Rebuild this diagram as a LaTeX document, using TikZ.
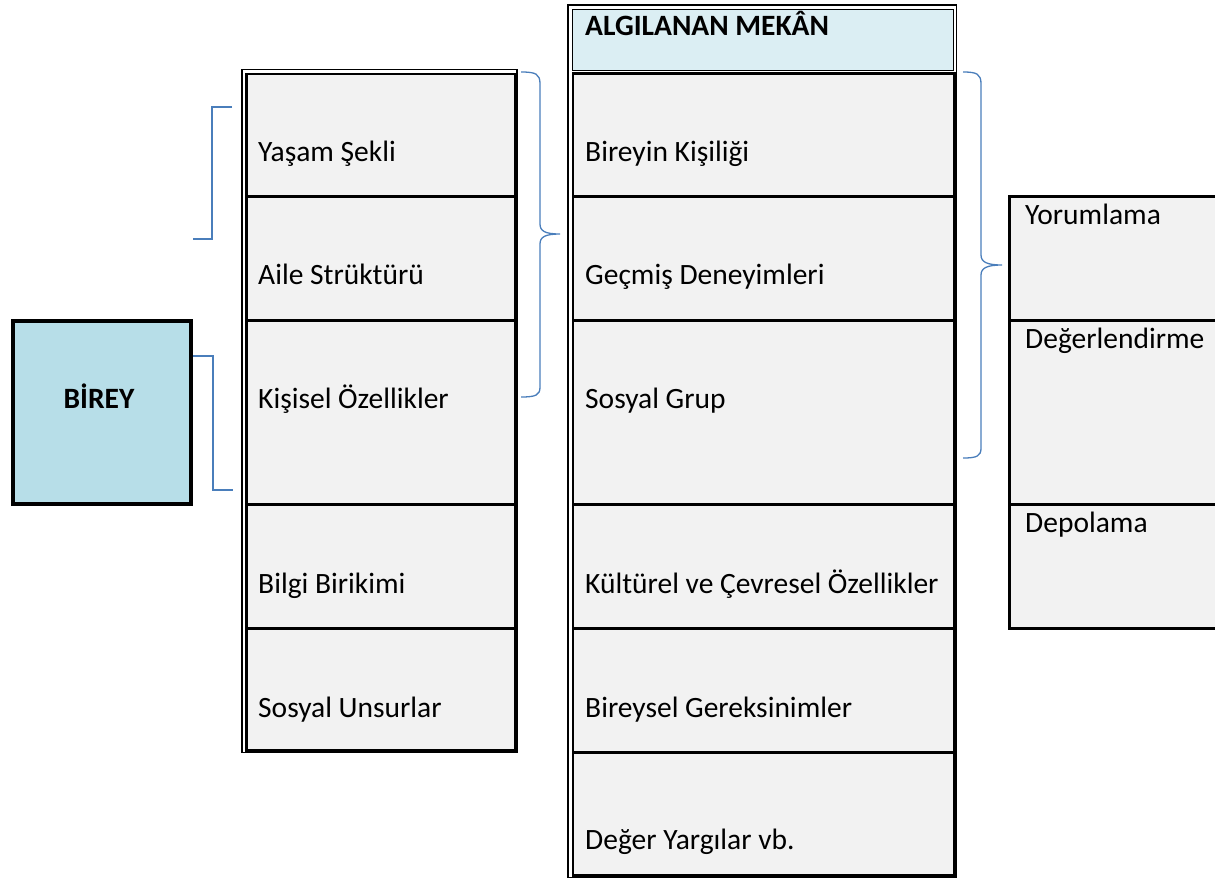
\documentclass[tikz,border=0pt]{standalone}
\usepackage{fontspec}
\setmainfont{Carlito}
\usetikzlibrary{positioning}

\definecolor{hucregri}{HTML}{F2F2F2}
\definecolor{basmavi}{HTML}{DBEEF3}
\definecolor{bireymavi}{HTML}{B7DEE8}
\definecolor{parantezmavi}{HTML}{4A7EBB}

\tikzset{
  hucre/.style={draw, line width=2.6pt, fill=hucregri, anchor=north west, inner sep=0pt},
  ince/.style={draw, line width=1.2pt},
  yazi/.style={anchor=base west, inner sep=0pt, font=\fontsize{29.5}{35}\selectfont},
  parantez/.style={draw=parantezmavi, line width=1.3pt},
}

\begin{document}
\begin{tikzpicture}[x=1pt,y=-1pt]
    \useasboundingbox (0,0) rectangle (1215,879);
    % birey
    \node[draw, line width=3.5pt, fill=bireymavi, anchor=north west, minimum width=178, minimum height=183] (birey) at (11,319) {};
    \node[yazi, anchor=base, font=\fontsize{29.5}{35}\selectfont\bfseries] (tbirey) at (99,408) {BİREY};
    % sol sutun
    \draw[ince] (242,69.5) rectangle (517,752.5);
    \node[hucre, minimum width=269, minimum height=122.5] (yasam) at (245,72.5) {};
    \node[hucre, minimum width=269, minimum height=124] (aile) at (245,195) {};
    \node[hucre, minimum width=269, minimum height=184] (kisisel) at (245,319) {};
    \node[hucre, minimum width=269, minimum height=124] (bilgi) at (245,503) {};
    \node[hucre, minimum width=269, minimum height=122] (sosyal) at (245,627) {};
    \node[yazi] (tyasam) at (258,161) {Yaşam Şekli};
    \node[yazi] (taile) at (258,284) {Aile Strüktürü};
    \node[yazi] (tkisisel) at (258,408) {Kişisel Özellikler};
    \node[yazi] (tbilgi) at (258,593) {Bilgi Birikimi};
    \node[yazi] (tsosyal) at (258,717) {Sosyal Unsurlar};
    % orta sutun
    \draw[ince] (568,5) rectangle (956.5,877.5);
    \node[ince, fill=basmavi, anchor=north west, inner sep=0pt, minimum width=381.5, minimum height=61] (baslik) at (571.5,8.5) {};
    \node[hucre, minimum width=381.5, minimum height=123] (kisilik) at (571.5,72) {};
    \node[hucre, minimum width=381.5, minimum height=124] (gecmis) at (571.5,195) {};
    \node[hucre, minimum width=381.5, minimum height=184] (grup) at (571.5,319) {};
    \node[hucre, minimum width=381.5, minimum height=124] (kultur) at (571.5,503) {};
    \node[hucre, minimum width=381.5, minimum height=124] (gerek) at (571.5,627) {};
    \node[hucre, minimum width=381.5, minimum height=123] (deger) at (571.5,751) {};
    \node[yazi, font=\fontsize{29.5}{35}\selectfont\bfseries] (tbaslik) at (585,35) {ALGILANAN MEKÂN};
    \node[yazi] (tkisilik) at (585,161) {Bireyin Kişiliği};
    \node[yazi] (tgecmis) at (585,284) {Geçmiş Deneyimleri};
    \node[yazi] (tgrup) at (585,408) {Sosyal Grup};
    \node[yazi] (tkultur) at (585,593) {Kültürel ve Çevresel Özellikler};
    \node[yazi] (tgerek) at (585,717) {Bireysel Gereksinimler};
    \node[yazi] (tdeger) at (585,849) {Değer Yargılar vb.};
    % sag sutun
    \node[hucre, line width=3pt, minimum width=230, minimum height=124] (yorum) at (1008,195) {};
    \node[hucre, line width=3pt, minimum width=230, minimum height=184] (degerlen) at (1008,319) {};
    \node[hucre, line width=3pt, minimum width=230, minimum height=124] (depo) at (1008,503) {};
    \node[yazi] (tyorum) at (1025,224) {Yorumlama};
    \node[yazi] (tdegerlen) at (1025,348) {Değerlendirme};
    \node[yazi] (tdepo) at (1025,532) {Depolama};
    % parantezler
    \draw[parantez] (232,107) -- (212,107) -- (212,239) -- (193,239);
    \draw[parantez] (193,356) -- (213,356) -- (213,490) -- (233,490);
    \draw[parantez] (521,72) .. controls (536,72) and (540,74) .. (540,84) -- (540,224)
        .. controls (540,231) and (545,234) .. (560,234) .. controls (545,234) and (540,237) .. (540,244)
        -- (540,387) .. controls (540,395) and (536,397) .. (521,397);
    \draw[parantez] (963,72) .. controls (977,72) and (981,74) .. (981,84) -- (981,255)
        .. controls (981,262) and (987,265) .. (1002,265) .. controls (987,265) and (981,268) .. (981,275)
        -- (981,448) .. controls (981,456) and (977,458) .. (963,458);
\end{tikzpicture}
\end{document}
